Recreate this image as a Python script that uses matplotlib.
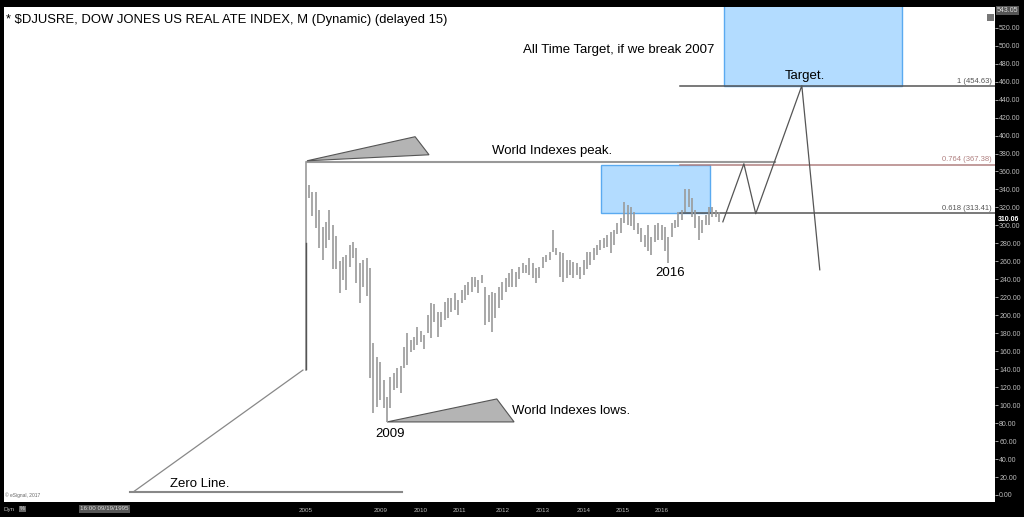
import matplotlib
matplotlib.use("Agg")
import matplotlib.pyplot as plt
import numpy as np

plt.rcParams['font.family'] = ['Liberation Sans', 'DejaVu Sans']

# monthly bars (high, low), bar index 1..122
highs = [345, 337, 337, 317, 298, 304, 317, 301, 288, 260,
         265, 267, 278, 281, 275, 258, 262, 264, 253, 169,
         154, 148, 128, 109, 131, 136, 141, 143, 165, 180,
         173, 176, 187, 182, 178, 200, 214, 212, 204, 204,
         215, 219, 219, 225, 217, 228, 234, 237, 243, 243,
         239, 245, 232, 223, 226, 225, 231, 237, 242, 247,
         251, 248, 254, 258, 256, 264, 258, 253, 254, 265,
         267, 270, 295, 275, 270, 269, 262, 262, 259, 258,
         254, 262, 270, 270, 275, 278, 284, 286, 289, 293,
         295, 303, 308, 326, 323, 321, 315, 303, 297, 289,
         300, 287, 300, 303, 300, 298, 287, 303, 306, 315,
         317, 340, 340, 331, 317, 310, 306, 312, 320, 321,
         317, 315]
lows = [331, 310, 297, 275, 262, 275, 284, 251, 251, 225,
        239, 228, 254, 264, 236, 214, 232, 221, 130, 91,
        98, 106, 97, 81, 97, 117, 119, 114, 141, 145,
        159, 161, 167, 170, 162, 180, 175, 192, 176, 187,
        195, 197, 204, 206, 200, 214, 217, 223, 226, 232,
        225, 236, 189, 192, 181, 197, 208, 217, 226, 231,
        232, 231, 240, 247, 247, 245, 242, 236, 242, 253,
        259, 262, 270, 267, 243, 237, 242, 245, 242, 245,
        240, 245, 251, 256, 262, 267, 273, 275, 276, 269,
        278, 290, 292, 303, 301, 299, 295, 290, 281, 276,
        271, 267, 282, 284, 284, 271, 258, 287, 297, 298,
        306, 315, 320, 309, 297, 284, 292, 301, 301, 309,
        309, 304]
bar_idx = np.arange(1, len(highs) + 1)

year_labels = ['2005', '2009', '2010', '2011', '2012', '2013', '2014', '2015', '2016']
year_pos = [0, 22.2, 34, 45.5, 58, 70, 82, 93.5, 105]

fib_levels = [454.63, 367.38, 313.41]
fib_names = ['1 (454.63)', '0.764 (367.38)', '0.618 (313.41)']
fib_colors = ['#555555', '#b08080', '#555555']
last_price = 310.06
top_price = 543.05

# projected path
proj_x = [123.1, 129.3, 132.8, 146.4, 151.7]
proj_y = [304, 368.6, 313, 455.5, 250.6]

fig = plt.figure(figsize=(10.24, 5.17), dpi=100, facecolor='black')
ax = fig.add_axes([4 / 1024, 15 / 517, 991 / 1024, 495 / 517])
ax.set_facecolor('white')
ax.set_xlim(-89, 203.4)
ax.set_ylim(-7.8, top_price)

# blue boxes
ax.fill([87.1, 119.3, 119.3, 87.1], [313.41, 313.41, 367.38, 367.38],
        facecolor='#b3dcff', edgecolor='#5aaaf0', lw=1, zorder=1)
ax.fill([123.4, 176, 176, 123.4], [454.63, 454.63, 560, 560],
        facecolor='#b3dcff', edgecolor='#5aaaf0', lw=1, zorder=1)

# fib lines
for lv, nm, c in zip(fib_levels, fib_names, fib_colors):
    ax.plot([110.4, 203.4], [lv, lv], color=c, lw=1.1, zorder=2)
    ax.text(202.5, lv + 2, nm, color=c, fontsize=5.5, ha='right', va='bottom', zorder=5)

# bars
ax.vlines(bar_idx, lows, highs, color='#9a9a9a', lw=1.2, zorder=3)

# history spike
ax.plot([0.1, 0.1], [139, 371], color='#9a9a9a', lw=1.2, zorder=3)
ax.plot([0.0, 0.0], [140, 280], color='#555555', lw=1.0, zorder=3)

# zero line and diagonal
ax.plot([-51.8, 28.4], [3.3, 3.3], color='#888888', lw=1.5, zorder=2)
ax.plot([-50.9, -0.8], [3.3, 139], color='#888888', lw=0.9, zorder=2)
ax.text(-40, 6, 'Zero Line.', fontsize=9.5, ha='left', va='bottom')

# peak line and triangle
ax.plot([0.4, 138.5], [370.8, 370.8], color='#999999', lw=1.5, zorder=2)
ax.fill([0.4, 32.3, 36.4], [371.9, 398.7, 378.6], facecolor='#b4b4b4',
        edgecolor='#555555', lw=0.8, zorder=2)
ax.text(55, 376, 'World Indexes peak.', fontsize=9.5, ha='left', va='bottom')

# low triangle
ax.fill([24, 56.4, 61.5], [81.3, 106.9, 81.3], facecolor='#b4b4b4',
        edgecolor='#555555', lw=0.8, zorder=2)
ax.text(61, 93.5, 'World Indexes lows.', fontsize=9.5, ha='left', va='center')
ax.text(25, 68, '2009', fontsize=9.5, ha='center', va='center')
ax.text(107.5, 247, '2016', fontsize=9.5, ha='center', va='center')

# projection
ax.plot(proj_x, proj_y, color='#555555', lw=0.9, zorder=4)
ax.text(147.3, 466, 'Target.', fontsize=9.5, ha='center', va='center', zorder=5)
ax.text(64.2, 495.6, 'All Time Target, if we break 2007', fontsize=9.5,
        ha='left', va='center', zorder=5)

# header
ax.text(0.002, 0.985, '* $DJUSRE, DOW JONES US REAL ATE INDEX, M (Dynamic) (delayed 15)',
        transform=ax.transAxes, fontsize=9.4, ha='left', va='top')
ax.text(0.001, 0.008, '\u00a9 eSignal, 2017', transform=ax.transAxes,
        fontsize=3.5, color='#666666', ha='left', va='bottom')
ax.add_patch(plt.Rectangle((0.9915, 0.972), 0.007, 0.014, transform=ax.transAxes,
                           facecolor='#777777', edgecolor='none'))

# right price axis
ax.yaxis.tick_right()
ax.set_yticks(np.arange(0, 521, 20))
ax.set_yticklabels(['%.2f' % v for v in np.arange(0, 521, 20)])
ax.tick_params(axis='y', colors='#bbbbbb', labelsize=5, length=2, pad=1, width=0.6)
ax.text(1.002, top_price, '%.2f' % top_price, transform=ax.get_yaxis_transform(),
        fontsize=5, color='#dddddd', ha='left', va='top',
        bbox=dict(boxstyle='square,pad=0.1', fc='#555555', ec='none'))
ax.text(1.003, last_price - 3, '%.2f' % last_price, transform=ax.get_yaxis_transform(),
        fontsize=5, color='white', ha='left', va='center', fontweight='bold')

# bottom time axis
ax.set_xticks(year_pos)
ax.set_xticklabels(year_labels)
ax.tick_params(axis='x', colors='#bbbbbb', labelsize=4.5, length=0, pad=4)
fig.text(3 / 1024, 8 / 517, 'Dyn', fontsize=4.5, color='#bbbbbb', va='center')
fig.text(20 / 1024, 8 / 517, '%', fontsize=4, color='#dddddd', va='center',
         bbox=dict(boxstyle='square,pad=0.15', fc='#666666', ec='none'))
fig.text(80 / 1024, 8 / 517, '16:00 09/19/1995', fontsize=4.5, color='#dddddd', va='center',
         bbox=dict(boxstyle='square,pad=0.2', fc='#555555', ec='none'))

for s in ax.spines.values():
    s.set_visible(False)

fig.savefig('out.png', dpi=100, facecolor='black')
